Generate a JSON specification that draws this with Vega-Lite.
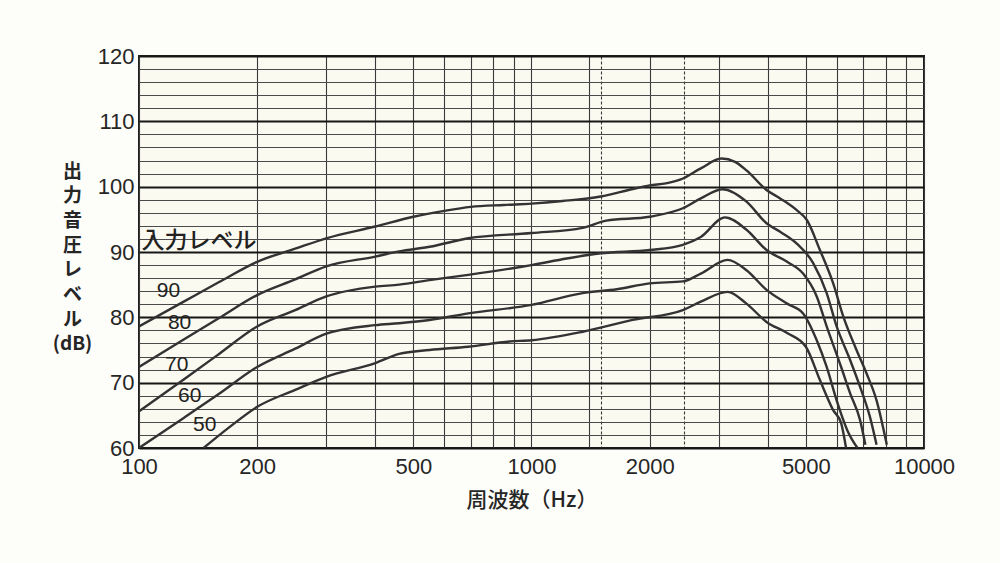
{
  "$schema": "https://vega.github.io/schema/vega-lite/v6.json",
  "autosize": {"type": "none"},
  "padding": {"left": 139, "top": 56, "right": 76, "bottom": 115},
  "width": 785,
  "height": 392,
  "background": "#fdfdf9",
  "config": {
    "font": "Liberation Sans",
    "view": {"stroke": "#1e1e1e", "strokeWidth": 2, "fill": "#fbfaf1"}
  },
  "datasets": {
    "curves": [
      {"level": "90", "f": 100, "db": 78.6},
      {"level": "90", "f": 130, "db": 82.4},
      {"level": "90", "f": 160, "db": 85.4},
      {"level": "90", "f": 200, "db": 88.5},
      {"level": "90", "f": 250, "db": 90.5},
      {"level": "90", "f": 300, "db": 92.1},
      {"level": "90", "f": 400, "db": 93.9},
      {"level": "90", "f": 500, "db": 95.4},
      {"level": "90", "f": 600, "db": 96.3},
      {"level": "90", "f": 700, "db": 96.9},
      {"level": "90", "f": 850, "db": 97.2},
      {"level": "90", "f": 1000, "db": 97.4},
      {"level": "90", "f": 1200, "db": 97.8},
      {"level": "90", "f": 1500, "db": 98.5},
      {"level": "90", "f": 1800, "db": 99.6},
      {"level": "90", "f": 2000, "db": 100.2},
      {"level": "90", "f": 2200, "db": 100.5},
      {"level": "90", "f": 2400, "db": 101.1},
      {"level": "90", "f": 2700, "db": 102.8},
      {"level": "90", "f": 3050, "db": 104.3},
      {"level": "90", "f": 3300, "db": 103.8},
      {"level": "90", "f": 3530, "db": 102.5},
      {"level": "90", "f": 3970, "db": 99.5},
      {"level": "90", "f": 4300, "db": 98.2},
      {"level": "90", "f": 4740, "db": 96.4},
      {"level": "90", "f": 5030, "db": 94.9},
      {"level": "90", "f": 5430, "db": 90.3},
      {"level": "90", "f": 5870, "db": 85.2},
      {"level": "90", "f": 6230, "db": 80.1},
      {"level": "90", "f": 6730, "db": 75.0},
      {"level": "90", "f": 7140, "db": 71.4},
      {"level": "90", "f": 7570, "db": 67.3},
      {"level": "90", "f": 8040, "db": 60.5},

      {"level": "80", "f": 100, "db": 72.4},
      {"level": "80", "f": 130, "db": 76.6},
      {"level": "80", "f": 160, "db": 79.9},
      {"level": "80", "f": 200, "db": 83.4},
      {"level": "80", "f": 250, "db": 85.8},
      {"level": "80", "f": 300, "db": 87.8},
      {"level": "80", "f": 400, "db": 89.3},
      {"level": "80", "f": 460, "db": 90.1},
      {"level": "80", "f": 550, "db": 90.8},
      {"level": "80", "f": 690, "db": 92.1},
      {"level": "80", "f": 1000, "db": 92.9},
      {"level": "80", "f": 1350, "db": 93.7},
      {"level": "80", "f": 1550, "db": 94.8},
      {"level": "80", "f": 2000, "db": 95.4},
      {"level": "80", "f": 2430, "db": 96.7},
      {"level": "80", "f": 2700, "db": 98.2},
      {"level": "80", "f": 3070, "db": 99.6},
      {"level": "80", "f": 3530, "db": 97.7},
      {"level": "80", "f": 3970, "db": 94.4},
      {"level": "80", "f": 4300, "db": 93.1},
      {"level": "80", "f": 4740, "db": 91.3},
      {"level": "80", "f": 5220, "db": 88.3},
      {"level": "80", "f": 5650, "db": 83.7},
      {"level": "80", "f": 5990, "db": 78.6},
      {"level": "80", "f": 6480, "db": 73.5},
      {"level": "80", "f": 6870, "db": 69.4},
      {"level": "80", "f": 7280, "db": 64.8},
      {"level": "80", "f": 7570, "db": 60.5},

      {"level": "70", "f": 100, "db": 65.6},
      {"level": "70", "f": 130, "db": 70.5},
      {"level": "70", "f": 160, "db": 74.4},
      {"level": "70", "f": 200, "db": 78.6},
      {"level": "70", "f": 250, "db": 81.1},
      {"level": "70", "f": 300, "db": 83.2},
      {"level": "70", "f": 400, "db": 84.7},
      {"level": "70", "f": 460, "db": 85.0},
      {"level": "70", "f": 550, "db": 85.7},
      {"level": "70", "f": 690, "db": 86.5},
      {"level": "70", "f": 1000, "db": 88.0},
      {"level": "70", "f": 1230, "db": 89.0},
      {"level": "70", "f": 1500, "db": 89.8},
      {"level": "70", "f": 2000, "db": 90.3},
      {"level": "70", "f": 2430, "db": 91.1},
      {"level": "70", "f": 2700, "db": 92.3},
      {"level": "70", "f": 3110, "db": 95.3},
      {"level": "70", "f": 3530, "db": 93.4},
      {"level": "70", "f": 3970, "db": 90.3},
      {"level": "70", "f": 4480, "db": 88.5},
      {"level": "70", "f": 4920, "db": 86.7},
      {"level": "70", "f": 5330, "db": 83.2},
      {"level": "70", "f": 5650, "db": 78.6},
      {"level": "70", "f": 6150, "db": 72.4},
      {"level": "70", "f": 6480, "db": 68.4},
      {"level": "70", "f": 6870, "db": 64.3},
      {"level": "70", "f": 7090, "db": 60.5},

      {"level": "60", "f": 100, "db": 60.0},
      {"level": "60", "f": 130, "db": 64.6},
      {"level": "60", "f": 160, "db": 68.3},
      {"level": "60", "f": 200, "db": 72.4},
      {"level": "60", "f": 250, "db": 75.2},
      {"level": "60", "f": 300, "db": 77.5},
      {"level": "60", "f": 400, "db": 78.8},
      {"level": "60", "f": 460, "db": 79.1},
      {"level": "60", "f": 550, "db": 79.6},
      {"level": "60", "f": 690, "db": 80.6},
      {"level": "60", "f": 1000, "db": 81.9},
      {"level": "60", "f": 1350, "db": 83.7},
      {"level": "60", "f": 1650, "db": 84.3},
      {"level": "60", "f": 2000, "db": 85.2},
      {"level": "60", "f": 2430, "db": 85.5},
      {"level": "60", "f": 2700, "db": 86.7},
      {"level": "60", "f": 3160, "db": 88.8},
      {"level": "60", "f": 3530, "db": 87.2},
      {"level": "60", "f": 3970, "db": 84.2},
      {"level": "60", "f": 4480, "db": 82.1},
      {"level": "60", "f": 4920, "db": 80.6},
      {"level": "60", "f": 5330, "db": 76.5},
      {"level": "60", "f": 5650, "db": 72.4},
      {"level": "60", "f": 5990, "db": 67.3},
      {"level": "60", "f": 6400, "db": 62.5},
      {"level": "60", "f": 6770, "db": 60.0},

      {"level": "50", "f": 146, "db": 60.0},
      {"level": "50", "f": 170, "db": 63.2},
      {"level": "50", "f": 200, "db": 66.3},
      {"level": "50", "f": 250, "db": 68.9},
      {"level": "50", "f": 300, "db": 70.9},
      {"level": "50", "f": 400, "db": 73.0},
      {"level": "50", "f": 460, "db": 74.4},
      {"level": "50", "f": 550, "db": 75.0},
      {"level": "50", "f": 690, "db": 75.5},
      {"level": "50", "f": 880, "db": 76.3},
      {"level": "50", "f": 1000, "db": 76.5},
      {"level": "50", "f": 1350, "db": 77.8},
      {"level": "50", "f": 1810, "db": 79.6},
      {"level": "50", "f": 2430, "db": 81.1},
      {"level": "50", "f": 2700, "db": 82.4},
      {"level": "50", "f": 3160, "db": 83.9},
      {"level": "50", "f": 3530, "db": 82.1},
      {"level": "50", "f": 3970, "db": 79.3},
      {"level": "50", "f": 4480, "db": 77.6},
      {"level": "50", "f": 5000, "db": 75.5},
      {"level": "50", "f": 5430, "db": 70.4},
      {"level": "50", "f": 5870, "db": 65.8},
      {"level": "50", "f": 6150, "db": 63.8},
      {"level": "50", "f": 6330, "db": 60.0}
    ],
    "labels": [
      {"text": "90", "f": 111, "db": 84.0},
      {"text": "80", "f": 118.5, "db": 79.2},
      {"text": "70", "f": 116.5, "db": 72.7},
      {"text": "60", "f": 125.7, "db": 68.0},
      {"text": "50", "f": 137.3, "db": 63.5}
    ],
    "heading": [
      {"text": "入力レベル", "f": 101.5, "db": 91.7}
    ]
  },
  "layer": [
    {
      "data": {"name": "curves"},
      "mark": {"type": "line", "interpolate": "monotone", "color": "#333333", "strokeWidth": 2.4, "clip": true},
      "encoding": {
        "x": {
          "field": "f",
          "type": "quantitative",
          "scale": {"type": "log", "domain": [100, 10000], "nice": false},
          "axis": {
            "values": [100, 200, 300, 400, 500, 600, 700, 800, 900, 1000, 1400, 1500, 2000, 2450, 3000, 4000, 5000, 6000, 7000, 8000, 9000, 10000],
            "tickCount": 200,
            "labelExpr": "(datum.value == 100 || datum.value == 200 || datum.value == 500 || datum.value == 1000 || datum.value == 2000 || datum.value == 5000 || datum.value == 10000) ? format(datum.value, 'd') : ''",
            "domain": false,
            "ticks": false,
            "grid": true,
            "gridColor": "#3a3a3a",
            "gridWidth": 1.1,
            "gridDash": {"condition": {"test": "datum.value == 1500 || datum.value == 2450", "value": [3, 2]}, "value": []},
            "labelFont": "Liberation Sans Narrow, Liberation Sans",
            "labelFontSize": 22,
            "labelColor": "#262626",
            "labelPadding": 8,
            "labelFlush": false,
            "labelOverlap": false,
            "title": "周波数（Hz）",
            "titleFont": "Noto Sans CJK JP",
            "titleFontSize": 21,
            "titleFontWeight": 500,
            "titleColor": "#262626",
            "titlePadding": 12
          }
        },
        "y": {
          "field": "db",
          "type": "quantitative",
          "scale": {"domain": [60, 120], "nice": false, "zero": false},
          "axis": {
            "values": [60, 62, 64, 66, 68, 70, 72, 74, 76, 78, 80, 82, 84, 86, 88, 90, 92, 94, 96, 98, 100, 102, 104, 106, 108, 110, 112, 114, 116, 118, 120],
            "tickCount": 200,
            "labelExpr": "datum.value % 10 === 0 ? format(datum.value, 'd') : ''",
            "domain": false,
            "ticks": false,
            "grid": true,
            "gridColor": {"condition": {"test": "datum.value % 10 === 0", "value": "#161616"}, "value": "#4a4a4a"},
            "gridWidth": {"condition": {"test": "datum.value % 10 === 0", "value": 2}, "value": 1.1},
            "labelFont": "Liberation Sans Narrow, Liberation Sans",
            "labelFontSize": 22,
            "labelColor": "#262626",
            "labelPadding": 5,
            "labelFlush": false,
            "labelOverlap": false,
            "title": ["出", "力", "音", "圧", "レ", "ベ", "ル", "(dB)"],
            "titleFont": "Noto Sans CJK JP",
            "titleFontSize": 19,
            "titleFontWeight": "bold",
            "titleLineHeight": 24.7,
            "titleColor": "#262626",
            "titleAngle": 0,
            "titleAlign": "center",
            "titleBaseline": "top",
            "titleX": -67,
            "titleY": 106
          }
        },
        "detail": {"field": "level", "type": "nominal"}
      }
    },
    {
      "data": {"name": "labels"},
      "mark": {"type": "text", "align": "left", "baseline": "middle", "color": "#222222", "font": "Liberation Sans Narrow, Liberation Sans", "fontSize": 21},
      "encoding": {
        "x": {"field": "f", "type": "quantitative"},
        "y": {"field": "db", "type": "quantitative"},
        "text": {"field": "text"}
      }
    },
    {
      "data": {"name": "heading"},
      "mark": {"type": "text", "align": "left", "baseline": "middle", "color": "#222222", "font": "Noto Sans CJK JP", "fontSize": 23, "fontWeight": 500},
      "encoding": {
        "x": {"field": "f", "type": "quantitative"},
        "y": {"field": "db", "type": "quantitative"},
        "text": {"field": "text"}
      }
    }
  ]
}
